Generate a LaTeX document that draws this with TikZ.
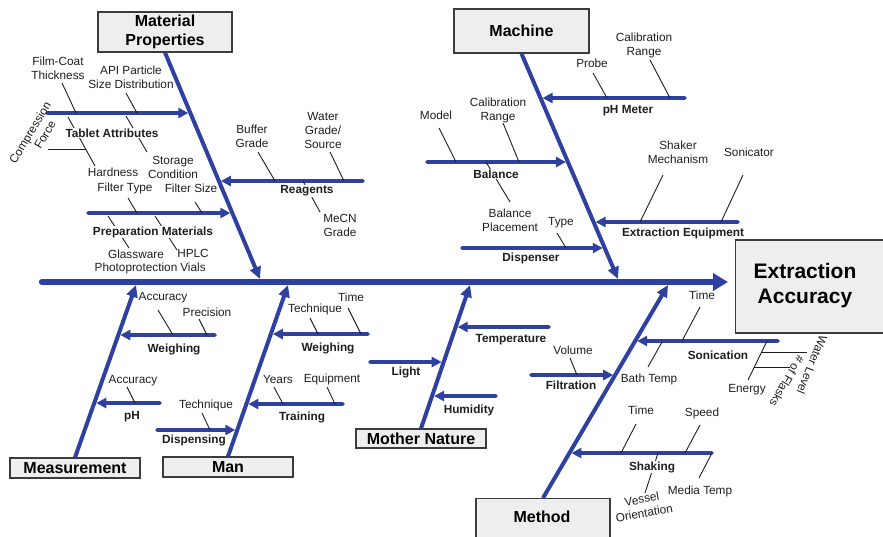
\documentclass[tikz,border=0pt]{standalone}
\usepackage{fontspec}
\setmainfont{Liberation Sans}
\usetikzlibrary{arrows.meta}
\definecolor{fishblue}{RGB}{46,64,160}
\definecolor{boxfill}{RGB}{238,238,238}
\definecolor{boxline}{RGB}{60,60,60}
\definecolor{ink}{RGB}{30,30,30}

\begin{document}
\begin{tikzpicture}[x=1pt,y=-1pt,
  spine/.style={fishblue, line width=6.5pt, line cap=round, -{Triangle[length=15pt,width=17pt]}},
  bone/.style={fishblue, line width=4pt, -{Triangle[length=12pt,width=11pt]}},
  sub/.style={fishblue, line width=3.6pt, line cap=round, shorten >=2pt, -{Triangle[length=10pt,width=10pt]}},
  tick/.style={ink, line width=0.9pt},
  catbox/.style={draw=boxline, fill=boxfill, line width=1.2pt, inner sep=0pt, align=center,
    font=\fontsize{16}{19}\selectfont\bfseries},
  lbl/.style={text=ink, inner sep=0.5pt, align=center, font=\fontsize{11.8}{14}\selectfont},
  sublbl/.style={lbl, font=\fontsize{11.8}{14}\selectfont\bfseries},
  cover/.style={fill=white},
]
\useasboundingbox (0,0) rectangle (883,536);
\clip (0,0) rectangle (883,536);

% ---------- effect and category boxes ----------
\node[catbox, minimum width=170pt, minimum height=93pt, anchor=west] (effect) at (735,286.5) {};
\node[inner sep=0pt, align=center, font=\fontsize{21}{25}\selectfont\bfseries] (effectlabel) at (805,286) {Extraction\\Accuracy};

\node[catbox, minimum width=134pt, minimum height=40pt] (mp) at (165,32) {Material\\Properties};
\node[catbox, minimum width=135pt, minimum height=44pt] (mach) at (521.5,31) {Machine};
\node[catbox, minimum width=130pt, minimum height=20pt] (meas) at (75,468) {Measurement};
\node[catbox, minimum width=130pt, minimum height=20pt] (man) at (228,467) {Man};
\node[catbox, minimum width=130pt, minimum height=19pt] (mn) at (421,438.5) {Mother Nature};
\node[catbox, minimum width=134pt, minimum height=60pt, anchor=north] (meth) at (543,498) {};
\node[inner sep=0pt, font=\fontsize{16}{19}\selectfont\bfseries] (methlabel) at (542,517) {Method};

% ---------- spine and main bones ----------
\coordinate (tail) at (42,282);
\coordinate (mpTip) at (260,279);
\coordinate (machTip) at (618,279);
\coordinate (measTip) at (136,285);
\coordinate (manTip) at (288,285);
\coordinate (mnTip) at (470,285);
\coordinate (methTip) at (668,285);

\draw[spine, shorten >=7pt] (tail) -- (tail -| effect.west);
\draw[bone] (mp.south) -- (mpTip);
\draw[bone] (mach.south) -- (machTip);
\draw[bone] (meas.north) -- (measTip);
\draw[bone] (man.north) -- (manTip);
\draw[bone] (mn.north) -- (mnTip);
\draw[bone] (meth.north) -- (methTip);

% ---------- sub-causes (blue arrows) ----------
% Material Properties
\draw[sub] (47,113) -- (intersection of mp.south--mpTip and 0,113--10,113);
\draw[sub] (88,213) -- (intersection of mp.south--mpTip and 0,213--10,213);
\draw[sub] (363,181) -- (intersection of mp.south--mpTip and 0,181--10,181);
% Machine
\draw[sub] (685,98) -- (intersection of mach.south--machTip and 0,98--10,98);
\draw[sub] (427,162) -- (intersection of mach.south--machTip and 0,162--10,162);
\draw[sub] (738,222) -- (intersection of mach.south--machTip and 0,222--10,222);
\draw[sub] (462,248) -- (intersection of mach.south--machTip and 0,248--10,248);
% Measurement
\draw[sub] (215,335) -- (intersection of meas.north--measTip and 0,335--10,335);
\draw[sub] (160,403) -- (intersection of meas.north--measTip and 0,403--10,403);
% Man
\draw[sub] (368,334) -- (intersection of man.north--manTip and 0,334--10,334);
\draw[sub] (343,404) -- (intersection of man.north--manTip and 0,404--10,404);
\draw[sub] (157,430) -- (intersection of man.north--manTip and 0,430--10,430);
% Mother Nature
\draw[sub] (549,327) -- (intersection of mn.north--mnTip and 0,327--10,327);
\draw[sub] (370,362) -- (intersection of mn.north--mnTip and 0,362--10,362);
\draw[sub] (496,396) -- (intersection of mn.north--mnTip and 0,396--10,396);
% Method
\draw[sub] (778,341) -- (intersection of meth.north--methTip and 0,341--10,341);
\draw[sub] (531,375) -- (intersection of meth.north--methTip and 0,375--10,375);
\draw[sub] (712,453) -- (intersection of meth.north--methTip and 0,453--10,453);

% ---------- detail ticks ----------
\draw[tick] (62,83) -- (76,113);
\draw[tick] (126,93) -- (137,113);
\draw[tick] (68,117) -- (95,166);
\draw[tick] (126,116) -- (147,152);
\draw[tick] (48,149) -- (86,149);
\draw[tick] (128,198) -- (137,213);
\draw[tick] (195,202) -- (202,213);
\draw[tick] (108,216) -- (129,248);
\draw[tick] (155,216) -- (177,250);
\draw[tick] (258,152) -- (275,181);
\draw[tick] (330,152) -- (344,181);
\draw[tick] (303,181) -- (320,212);

\draw[tick] (593,73) -- (607,98);
\draw[tick] (650,60) -- (670,98);
\draw[tick] (439,128) -- (456,162);
\draw[tick] (503,123) -- (519,162);
\draw[tick] (486,162) -- (510,202);
\draw[tick] (663,175) -- (640,222);
\draw[tick] (743,175) -- (721,222);
\draw[tick] (557,233) -- (566,248);

\draw[tick] (158,310) -- (173,335);
\draw[tick] (199,319) -- (207,335);
\draw[tick] (127,387) -- (135,403);
\draw[tick] (310,318) -- (318,334);
\draw[tick] (348,308) -- (361,334);
\draw[tick] (274,387) -- (283,404);
\draw[tick] (327,387) -- (335,404);
\draw[tick] (202,413) -- (210,430);
\draw[tick] (570,358) -- (577,375);

\draw[tick] (700,307) -- (682,341);
\draw[tick] (662,342) -- (648,367);
\draw[tick] (767,341) -- (748,380);
\draw[tick] (762,352) -- (807,352);
\draw[tick] (754,367) -- (790,367);
\draw[tick] (636,424) -- (621,453);
\draw[tick] (700,425) -- (685,453);
\draw[tick] (712,453) -- (699,478);
\draw[tick] (658,453) -- (645,493);

% ---------- labels: Material Properties ----------
\node[lbl] (filmcoat) at (58,68) {Film-Coat\\Thickness};
\node[lbl] (apipsd) at (131,77) {API Particle\\Size Distribution};
\node[lbl, rotate=59] (compf) at (36,136) {Compression\\\hspace*{11pt}Force};
\node[sublbl, cover] (tablet) at (112,133) {Tablet Attributes};
\node[lbl] (hardness) at (113,172) {Hardness};
\node[lbl] (storage) at (173,167) {Storage\\Condition};
\node[lbl] (ftype) at (125,188) {Filter Type};
\node[lbl] (fsize) at (191,188) {Filter Size};
\node[sublbl, cover] (prep) at (153,232) {Preparation Materials};
\node[lbl] (glass) at (136,262) {Glassware\\[-1.5pt]Photoprotection};
\node[lbl] (hplc) at (193,260) {HPLC\\Vials};
\node[lbl] (buffer) at (252,136) {Buffer\\Grade};
\node[lbl] (water) at (323,130) {Water\\Grade/\\Source};
\node[sublbl, cover] (reag) at (307,191) {Reagents};
\node[lbl] (mecn) at (340,225) {MeCN\\Grade};

% ---------- labels: Machine ----------
\node[lbl] (probe) at (592,63) {Probe};
\node[lbl] (phcal) at (644,45) {Calibration\\Range};
\node[sublbl] (phm) at (628,111) {pH Meter};
\node[lbl] (model) at (436,115) {Model};
\node[lbl] (balcal) at (498,110) {Calibration\\Range};
\node[sublbl, cover] (bal) at (496,174) {Balance};
\node[lbl] (balpl) at (510,220) {Balance\\Placement};
\node[lbl] (shakmech) at (678,152) {Shaker\\Mechanism};
\node[lbl] (sonicator) at (749,152) {Sonicator};
\node[sublbl] (exteq) at (683,233) {Extraction Equipment};
\node[lbl] (dtype) at (561,223) {Type};
\node[sublbl] (disp) at (531,258) {Dispenser};

% ---------- labels: Measurement ----------
\node[lbl] (wacc) at (163,298) {Accuracy};
\node[lbl] (wprec) at (207,312) {Precision};
\node[sublbl] (mweigh) at (174,349) {Weighing};
\node[lbl] (phacc) at (133,381) {Accuracy};
\node[sublbl] (ph) at (132,417) {pH};

% ---------- labels: Man ----------
\node[lbl] (wtech) at (315,309) {Technique};
\node[lbl] (wtime) at (351,297) {Time};
\node[sublbl] (manweigh) at (328,348) {Weighing};
\node[lbl] (years) at (278,379) {Years};
\node[lbl] (equip) at (332,379) {Equipment};
\node[sublbl] (train) at (302,417) {Training};
\node[lbl] (dtech) at (206,405) {Technique};
\node[sublbl] (dispg) at (194,440) {Dispensing};

% ---------- labels: Mother Nature ----------
\node[sublbl] (temp) at (511,340) {Temperature};
\node[sublbl] (light) at (406,372) {Light};
\node[sublbl] (humid) at (469,410) {Humidity};

% ---------- labels: Method ----------
\node[lbl] (stime) at (702,295) {Time};
\node[lbl] (bath) at (649,379) {Bath Temp};
\node[lbl] (energy) at (747,390) {Energy};
\node[sublbl] (sonic) at (718,355) {Sonication};
\node[lbl, rotate=-112] (wlevel) at (812,365) {Water Level};
\node[lbl, rotate=-120] (flasks) at (787,381) {\# of Flasks};
\node[lbl] (volume) at (573,350) {Volume};
\node[sublbl] (filt) at (571,385) {Filtration};
\node[lbl] (shtime) at (641,410) {Time};
\node[lbl] (speed) at (702,413) {Speed};
\node[sublbl, cover] (shak) at (652,467) {Shaking};
\node[lbl] (media) at (700,491) {Media Temp};
\node[lbl, rotate=10] (vessel) at (643,506) {Vessel\\Orientation};
\end{tikzpicture}
\end{document}
